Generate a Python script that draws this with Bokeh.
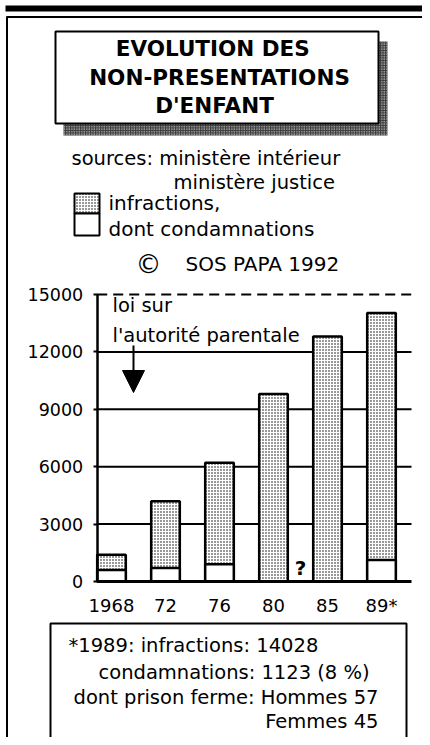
import math
from bokeh.plotting import figure
from bokeh.models import (Range1d, LinearAxis, FixedTicker, Label, Arrow,
                          NormalHead, ColumnDataSource)
from bokeh.core.properties import value
from bokeh.embed import file_html
from bokeh.resources import INLINE

# ---------------- data ----------------
years = ["1968", "72", "76", "80", "85", "89*"]
infractions = [1400, 4200, 6200, 9800, 12800, 14028]
condamnations = [600, 700, 900, math.nan, math.nan, 1123]
y_ticks = [0, 3000, 6000, 9000, 12000, 15000]
grid_values = [3000, 6000, 9000, 12000]
dashed_value = 15000

FONT = "DejaVu Sans"

# ---------------- picture geometry (pixels of the picture) ----------------
W, H = 422, 737
PX_L, PX_R, PX_T, PX_B = 0, W, 0, H
CAT0_PX, CAT_STEP_PX = 111, 54          # centre of first bar, spacing
ZERO_PX, PX_PER_VAL = 581, 287 / 15000   # baseline, scale
BAR_W = 0.53
X_LEFT = -BAR_W / 2
X_RIGHT = (411 - CAT0_PX) / CAT_STEP_PX

p = figure(width=W, height=H, x_range=Range1d(PX_L, PX_R),
           y_range=Range1d(PX_B, PX_T), x_axis_type=None, y_axis_type=None,
           toolbar_location=None, output_backend="svg", min_border=0,
           outline_line_color=None, background_fill_color="white",
           border_fill_color="white")
p.extra_x_ranges = {"cat": Range1d((PX_L - CAT0_PX) / CAT_STEP_PX,
                                   (PX_R - CAT0_PX) / CAT_STEP_PX)}
p.extra_y_ranges = {"val": Range1d((ZERO_PX - PX_B) / PX_PER_VAL,
                                   (ZERO_PX - PX_T) / PX_PER_VAL)}


def lab(x, y, text, size, align="left", style="normal"):
    p.add_layout(Label(x=x, y=y, text=text, text_font=FONT,
                       text_font_size=f"{size}px", text_align=align,
                       text_baseline="middle", text_font_style=style,
                       text_color="black"))


STIPPLE = dict(fill_color="white", hatch_pattern="dot", hatch_color="black",
               hatch_scale=3, hatch_weight=1)

# ---------------- outer frame ----------------
p.quad(left=5, right=430, top=5, bottom=11, fill_color="black", line_color=None)
p.segment(x0=6, y0=16.5, x1=430, y1=16.5, line_color="black", line_width=2)
p.segment(x0=6.5, y0=16, x1=6.5, y1=745, line_color="black", line_width=2)

# ---------------- title box ----------------
p.quad(left=63, right=387, top=41, bottom=135, line_color=None,
       fill_color="#3c3c3c", hatch_pattern="dot", hatch_color="white",
       hatch_scale=2.5, hatch_weight=1)
p.quad(left=55, right=378, top=31, bottom=123, fill_color="white",
       line_color="black", line_width=2)
lab(216, 48, "EVOLUTION  DES", 21.5, "center", "bold")
lab(219, 77, "NON-PRESENTATIONS", 21.5, "center", "bold")
lab(214, 105, "D'ENFANT", 21.5, "center", "bold")

# ---------------- sources / legend ----------------
lab(71, 158, "sources: ministère intérieur", 19.5)
lab(173, 182, "ministère justice", 19.5)
p.quad(left=74, right=99, top=193, bottom=213, line_color="black",
       line_width=2, **STIPPLE)
p.quad(left=74, right=99, top=213, bottom=235, fill_color="white",
       line_color="black", line_width=2)
lab(108, 202, "infractions,", 20)
lab(108, 228, "dont condamnations", 20)
lab(148, 263, "©", 26, "center")
lab(185, 263, "SOS PAPA 1992", 20)

# ---------------- chart ----------------
src = ColumnDataSource(dict(x=list(range(len(years))), inf=infractions,
                            cond=condamnations))
kw = dict(x_range_name="cat", y_range_name="val")

p.segment(x0=[X_LEFT] * len(grid_values), y0=grid_values,
          x1=[X_RIGHT] * len(grid_values), y1=grid_values,
          line_color="black", line_width=2, **kw)
p.segment(x0=[X_LEFT], y0=[dashed_value], x1=[X_RIGHT], y1=[dashed_value],
          line_color="black", line_width=2, line_dash="10 6", **kw)

p.vbar(x="x", top="inf", bottom=0, width=BAR_W, source=src,
       line_color="black", line_width=2.5, **STIPPLE, **kw)
p.vbar(x="x", top="cond", bottom=0, width=BAR_W, source=src,
       fill_color="white", line_color="black", line_width=2.5, **kw)

p.text(x=[3.5], y=[700], text=["?"], text_font=value(FONT),
       text_font_style="bold", text_font_size="20px", text_align="center",
       text_baseline="middle", text_color="black", **kw)

yax = LinearAxis(x_range_name="cat", y_range_name="val", fixed_location=X_LEFT,
                 ticker=FixedTicker(ticks=y_ticks), bounds=(0, 15000),
                 axis_line_width=2.5, axis_line_color="black",
                 major_tick_out=4, major_tick_in=0, major_tick_line_width=2,
                 major_tick_line_color="black", minor_tick_line_color=None,
                 major_label_standoff=10, major_label_text_font=FONT,
                 major_label_text_font_size="17.5px",
                 major_label_text_color="black")
p.add_layout(yax, "left")

xax = LinearAxis(x_range_name="cat", y_range_name="val", fixed_location=0,
                 ticker=FixedTicker(ticks=list(range(len(years)))),
                 major_label_overrides={i: y for i, y in enumerate(years)},
                 bounds=(X_LEFT, X_RIGHT), axis_line_width=3,
                 axis_line_color="black", major_tick_line_color=None,
                 minor_tick_line_color=None, major_tick_out=0, major_tick_in=0,
                 major_label_standoff=13, major_label_text_font=FONT,
                 major_label_text_font_size="18px",
                 major_label_text_color="black")
p.add_layout(xax, "below")

# note + arrow
lab(112, 305, "loi sur", 19.5)
lab(112, 335, "l'autorité parentale", 19.5)
p.add_layout(Arrow(end=NormalHead(size=22, fill_color="black",
                                  line_color="black"),
                   x_start=133, y_start=345, x_end=133, y_end=392,
                   line_width=2, line_color="black"))

# ---------------- footnote box ----------------
p.quad(left=50, right=406, top=623, bottom=760, fill_color="white",
       line_color="black", line_width=2)
lab(68, 645, "*1989: infractions: 14028", 19.5)
lab(98, 672, "condamnations: 1123  (8 %)", 19.5)
lab(73, 697, "dont prison ferme: Hommes 57", 19.5)
lab(378, 721, "Femmes 45", 19.5, "right")

open("out.html", "w").write(file_html(p, INLINE))
